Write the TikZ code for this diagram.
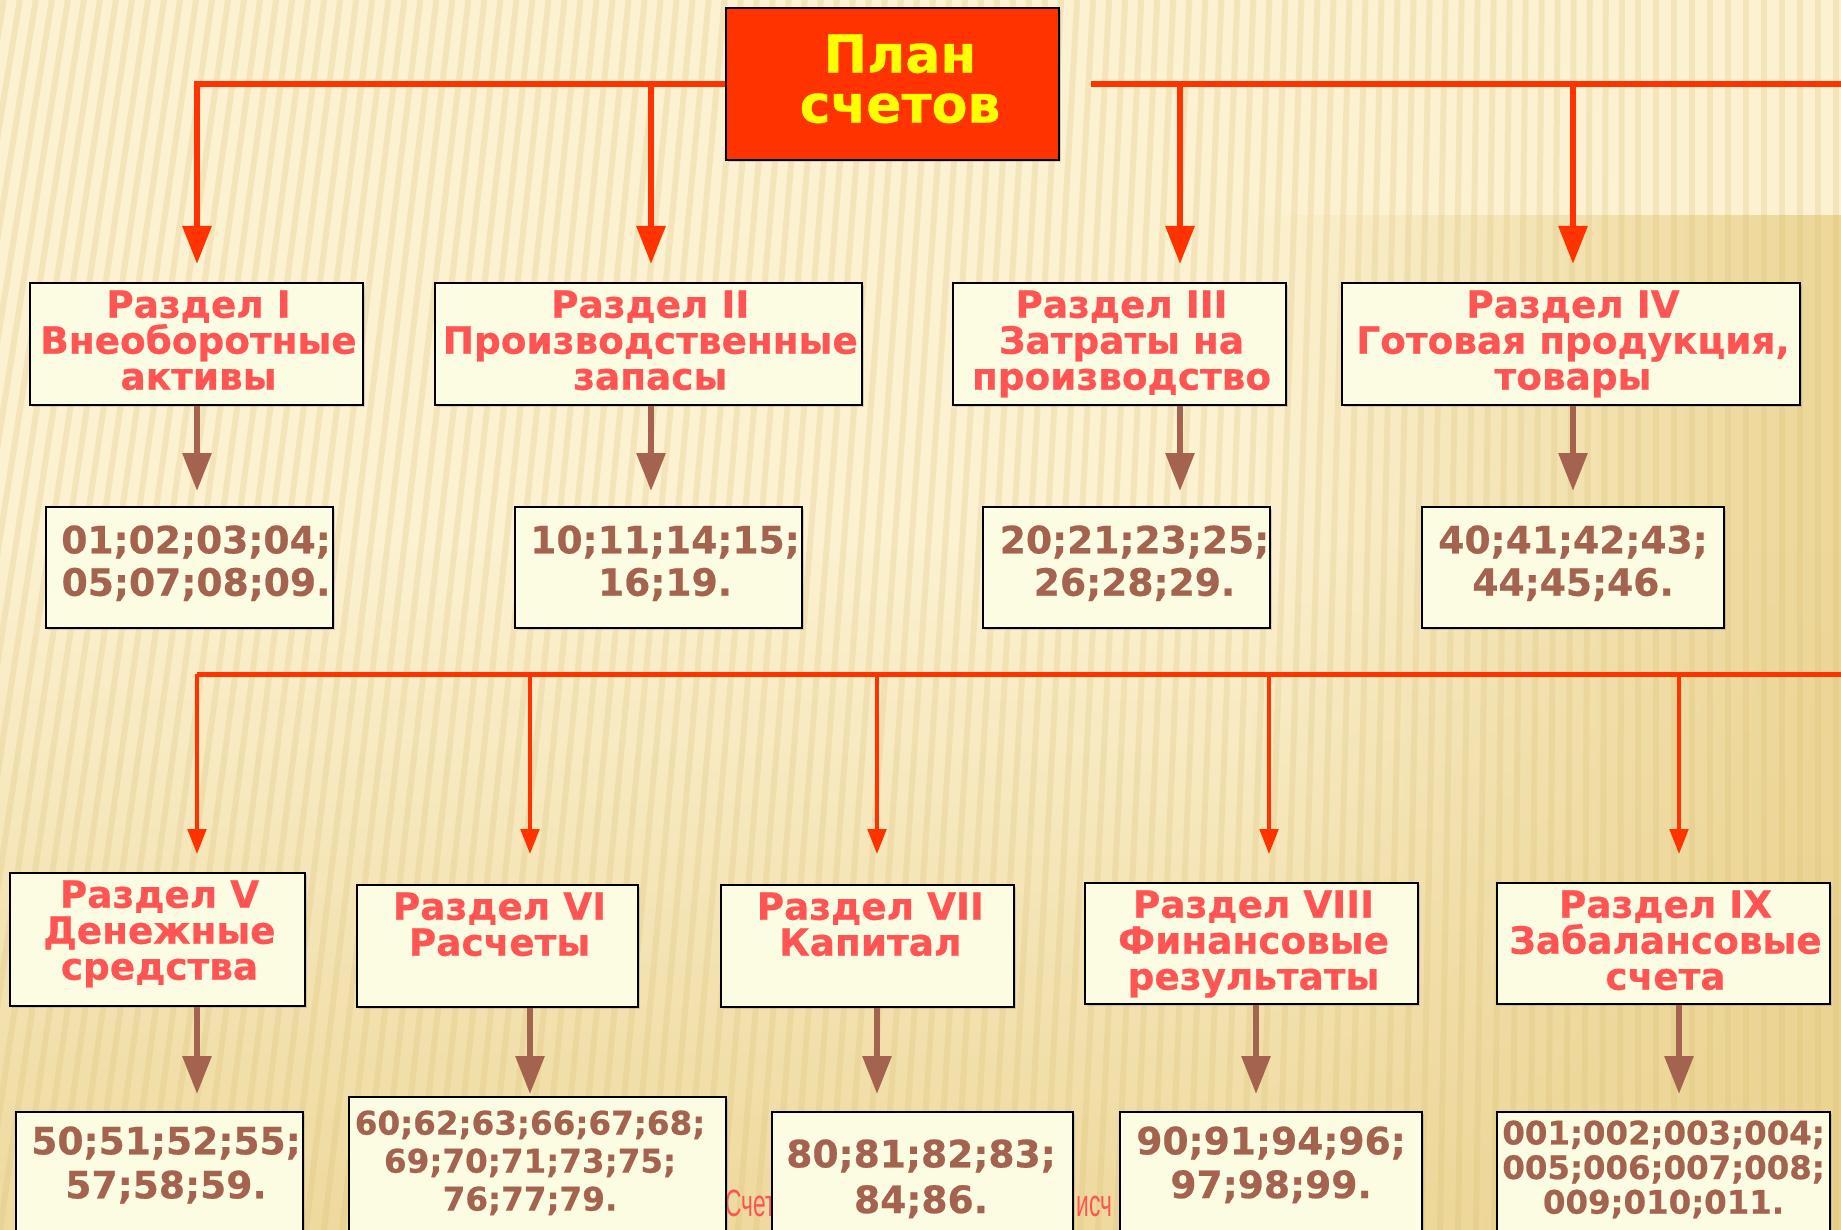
\documentclass[tikz,border=0pt]{standalone}
\usepackage{fontspec}
\usepackage{graphicx}
\setmainfont{DejaVu Sans}
\newfontfamily\footfont{Liberation Sans}
\usetikzlibrary{arrows.meta,calc,fadings,shadows}
\setlength{\lineskiplimit}{-100pt}
\definecolor{bgA}{RGB}{252,241,208}
\definecolor{bgB}{RGB}{234,210,142}
\definecolor{stripec}{RGB}{214,186,110}
\definecolor{linered}{RGB}{255,51,0}
\definecolor{secred}{RGB}{255,84,84}
\definecolor{numbrown}{RGB}{163,99,78}
\definecolor{boxfill}{RGB}{252,252,226}
\definecolor{titleyellow}{RGB}{255,255,0}
\begin{document}
\begin{tikzpicture}[x=0.5pt,y=-0.5pt,
  box/.style={draw=black, line width=1pt, fill=boxfill, inner sep=0pt, rectangle,
    drop shadow={opacity=0.3,shadow xshift=1pt,shadow yshift=-1pt}},
  sectxt/.style={text=secred, font=\fontsize{18.7pt}{18pt}\selectfont\bfseries\addfontfeatures{FakeBold=0.6},
    align=center, inner sep=0pt, anchor=north, execute at begin node={\rule{0pt}{15pt}}},
  numtxt/.style 2 args={text=numbrown, font=\fontsize{#1}{#2}\selectfont\bfseries\addfontfeatures{FakeBold=0.6},
    align=center, inner sep=0pt, anchor=north, execute at begin node={\rule{0pt}{15pt}}},
  titletxt/.style={text=titleyellow, font=\fontsize{26pt}{25pt}\selectfont\bfseries\addfontfeatures{FakeBold=0.6},
    align=center, inner sep=0pt, anchor=north, execute at begin node={\rule{0pt}{21pt}}},
  foottxt/.style={text=secred, font=\footfont\fontsize{19pt}{19pt}\selectfont, inner sep=0pt, anchor=base west},
  topline/.style={draw=linered, line width=3pt, -{Triangle[length=19pt,width=14pt]}, shorten >=9pt},
  topbar/.style={draw=linered, line width=3pt},
  busline/.style={draw=linered, line width=2.5pt},
  droparrow/.style={draw=linered, line width=1.75pt, -{Triangle[length=12.5pt,width=9.3pt]}},
  brarrow/.style={draw=numbrown, line width=3pt, -{Triangle[length=19pt,width=14pt]}},
  bgstripe/.style={draw=stripec, line width=3pt, opacity=0.22}
]
\useasboundingbox (0,0) rectangle (1841,1230);
\clip (0,0) rectangle (1841,1230);
% background
\fill[bgA] (0,0) rectangle (1841,1230);
\fill[bgB, path fading=west, opacity=0.85] (1250,215) rectangle (1841,1230);
\fill[bgB, path fading=north, opacity=0.75] (0,550) rectangle (1841,1230);
\foreach \i in {-12,...,105} {
  \pgfmathsetmacro{\xa}{\i*18}
  \pgfmathsetmacro{\sl}{max(0,180-0.11*\xa)}
  \draw[bgstripe] (\xa,1230) -- (\xa+\sl,0);
}

% title
\node[box, fill=linered, minimum width=166.5pt, minimum height=75.8pt] (plan) at (892.5,84) {};
\node[titletxt] (tplan) at ($(plan.north)+(7.5,27)$) {План\\счетов};

% row 1
\node[box, minimum width=166.5pt, minimum height=61pt] (s1) at (196.5,344) {};
\node[sectxt] (ts1) at ($(s1.north)+(2,8)$) {Раздел I\\Внеоборотные\\активы};
\node[box, minimum width=213.25pt, minimum height=61pt] (s2) at (648.25,344) {};
\node[sectxt] (ts2) at ($(s2.north)+(2,8)$) {Раздел II\\Производственные\\запасы};
\node[box, minimum width=166.5pt, minimum height=61pt] (s3) at (1119.5,344) {};
\node[sectxt] (ts3) at ($(s3.north)+(2,8)$) {Раздел III\\Затраты на\\производство};
\node[box, minimum width=229pt, minimum height=61pt] (s4) at (1571,344) {};
\node[sectxt] (ts4) at ($(s4.north)+(2,8)$) {Раздел IV\\Готовая продукция,\\товары};

% row 2
\node[box, minimum width=143.5pt, minimum height=60.5pt] (n1) at (189.5,567.5) {};
\node[numtxt={18.8pt}{21.2pt}] (tn1) at ($(n1.north)+(6.5,19)$) {01;02;03;04;\\05;07;08;09.};
\node[box, minimum width=143.5pt, minimum height=60.5pt] (n2) at (658.5,567.5) {};
\node[numtxt={18.8pt}{21.2pt}] (tn2) at ($(n2.north)+(6.5,19)$) {10;11;14;15;\\16;19.};
\node[box, minimum width=143.5pt, minimum height=60.5pt] (n3) at (1126.5,567.5) {};
\node[numtxt={18.8pt}{21.2pt}] (tn3) at ($(n3.north)+(8,19)$) {20;21;23;25;\\26;28;29.};
\node[box, minimum width=151pt, minimum height=60.5pt] (n4) at (1573,567.5) {};
\node[numtxt={18.8pt}{21.2pt}] (tn4) at ($(n4.north)+(0,19)$) {40;41;42;43;\\44;45;46.};

% connectors top tier
\coordinate (x1) at (197,0);
\coordinate (x2) at (651,0);
\coordinate (x3) at (1180,0);
\coordinate (x4) at (1573,0);
\coordinate (rgo) at (1091,84);
\coordinate (rend) at (1841,84);
\draw[topline] (plan.west) -| (s1.north -| x1);
\draw[topline] (plan.west -| x2) -- (s2.north -| x2);
\draw[topbar] (rgo) -- (rend);
\draw[topline] (rgo -| x3) -- (s3.north -| x3);
\draw[topline] (rgo -| x4) -- (s4.north -| x4);

\draw[brarrow, shorten >=7.5pt] (s1.south -| x1) -- (n1.north -| x1);
\draw[brarrow, shorten >=7.5pt] (s2.south -| x2) -- (n2.north -| x2);
\draw[brarrow, shorten >=7.5pt] (s3.south -| x3) -- (n3.north -| x3);
\draw[brarrow, shorten >=7.5pt] (s4.south -| x4) -- (n4.north -| x4);

% footer fragments (behind boxes)
\node[foottxt] (f1) at (725,1216.7) {\scalebox{0.6}[1]{Счет}};
\node[foottxt] (f2) at (1076,1216.7) {\scalebox{0.6}[1]{исч}};

% row 3
\node[box, minimum width=147.5pt, minimum height=66.5pt] (s5) at (157.5,939.5) {};
\node[sectxt] (ts5) at ($(s5.north)+(2,8)$) {Раздел V\\Денежные\\средства};
\node[box, minimum width=140.5pt, minimum height=61pt] (s6) at (497.5,946) {};
\node[sectxt] (ts6) at ($(s6.north)+(2,8)$) {Раздел VI\\Расчеты};
\node[box, minimum width=146.7pt, minimum height=61pt] (s7) at (867.3,946) {};
\node[sectxt] (ts7) at ($(s7.north)+(3,8)$) {Раздел VII\\Капитал};
\node[box, minimum width=166.5pt, minimum height=60.5pt] (s8) at (1251.5,943.5) {};
\node[sectxt] (ts8) at ($(s8.north)+(2,8)$) {Раздел VIII\\Финансовые\\результаты};
\node[box, minimum width=166.5pt, minimum height=60.5pt] (s9) at (1663.5,943.5) {};
\node[sectxt] (ts9) at ($(s9.north)+(2,8)$) {Раздел IX\\Забалансовые\\счета};

% row 4
\node[box, minimum width=143.5pt, minimum height=64pt] (n5) at (159.5,1176) {};
\node[numtxt={18.8pt}{22pt}] (tn5) at ($(n5.north)+(6.5,15)$) {50;51;52;55;\\57;58;59.};
\node[box, minimum width=188.5pt, minimum height=71.5pt] (n6) at (537.5,1168.5) {};
\node[numtxt={16.3pt}{19pt}] (tn6) at ($(n6.north)+(-7.5,14)$) {60;62;63;66;67;68;\\69;70;71;73;75;\\76;77;79.};
\node[box, minimum width=150.5pt, minimum height=64pt] (n7) at (922.5,1176) {};
\node[numtxt={18.8pt}{22.85pt}] (tn7) at ($(n7.north)+(-1.5,28)$) {80;81;82;83;\\84;86.};
\node[box, minimum width=151pt, minimum height=64pt] (n8) at (1271,1176) {};
\node[numtxt={18.8pt}{21.85pt}] (tn8) at ($(n8.north)+(0,15)$) {90;91;94;96;\\97;98;99.};
\node[box, minimum width=166.5pt, minimum height=64pt] (n9) at (1663.5,1176) {};
\node[numtxt={16.2pt}{17.3pt}] (tn9) at ($(n9.north)+(0,9)$) {001;002;003;004;\\005;006;007;008;\\009;010;011.};

% second tier connectors
\coordinate (bus0) at (197,674);
\coordinate (busend) at (1841,674);
\coordinate (x6) at (530,0);
\coordinate (x7) at (877,0);
\coordinate (x8) at (1269,0);
\coordinate (x9) at (1679,0);
\coordinate (b8) at (1256,0);
\draw[busline] (busend) -- (bus0);
\draw[droparrow, shorten >=9pt] (bus0) -- (s5.north -| bus0);
\draw[droparrow, shorten >=15pt] (bus0 -| x6) -- (s6.north -| x6);
\draw[droparrow, shorten >=15pt] (bus0 -| x7) -- (s7.north -| x7);
\draw[droparrow, shorten >=14pt] (bus0 -| x8) -- (s8.north -| x8);
\draw[droparrow, shorten >=14pt] (bus0 -| x9) -- (s9.north -| x9);

\draw[brarrow, shorten >=8.5pt] (s5.south -| bus0) -- (n5.north -| bus0);
\draw[brarrow, shorten >=1pt] (s6.south -| x6) -- (n6.north -| x6);
\draw[brarrow, shorten >=8.5pt] (s7.south -| x7) -- (n7.north -| x7);
\draw[brarrow, shorten >=8.5pt] (s8.south -| b8) -- (n8.north -| b8);
\draw[brarrow, shorten >=8.5pt] (s9.south -| x9) -- (n9.north -| x9);
\end{tikzpicture}
\end{document}
